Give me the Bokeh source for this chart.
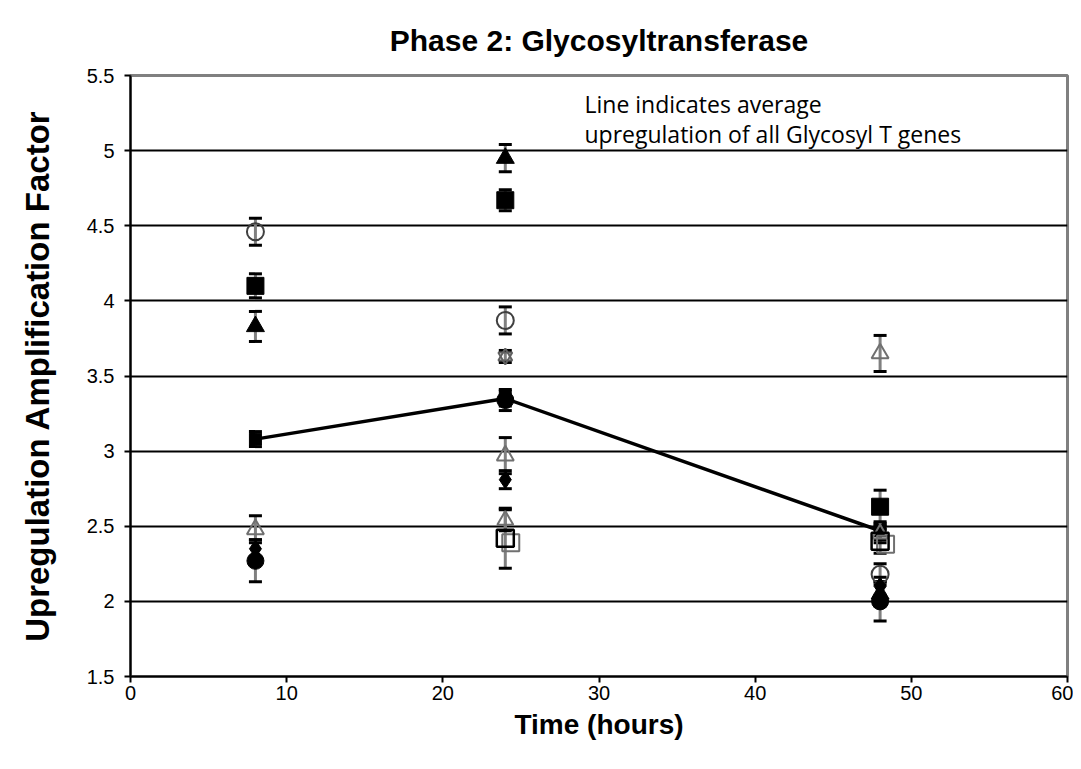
from bokeh.plotting import figure
from bokeh.models import (Range1d, FixedTicker, ColumnDataSource, Whisker, TeeHead, Label)
from bokeh.embed import file_html
from bokeh.resources import INLINE

# ---- data ----
times = [8, 24, 48]

open_circle = [4.46, 3.87, 2.18]
open_circle_err = [0.09, 0.09, 0.07]

filled_square = [4.10, 4.67, 2.63]
filled_square_err = [0.08, 0.07, 0.11]

filled_triangle = [3.83, 4.95, 2.05]
filled_triangle_err = [0.10, 0.09, 0.08]

open_triangle = [2.48, 2.97, 3.65]
open_triangle_err = [0.09, 0.12, 0.12]

filled_diamond = [2.35, 2.81, 2.10]
filled_diamond_err = [0.06, 0.06, 0.06]

filled_circle = [2.27, 3.34, 2.00]
filled_circle_err = [0.14, 0.07, 0.13]

open_square_times = [24, 48]
open_square = [2.42, 2.40]
open_square_err = [0.20, 0.08]

open_square2_times = [24.35, 48.35]
open_square2 = [2.39, 2.38]

open_triangle2_times = [24, 48]
open_triangle2 = [2.54, 2.45]
open_triangle2_err = [0.07, 0.06]

hourglass_times = [24]
hourglass = [3.63]
hourglass_err = [0.04]

average = [3.08, 3.35, 2.47]
average_err = [0.05, 0.05, 0.06]

x_ticks = [0, 10, 20, 30, 40, 50, 60]
y_ticks = [1.5, 2, 2.5, 3, 3.5, 4, 4.5, 5, 5.5]
y_tick_labels = ["1.5", "2", "2.5", "3", "3.5", "4", "4.5", "5", "5.5"]

title_text = "Phase 2: Glycosyltransferase"
x_label = "Time (hours)"
y_label = "Upregulation Amplification Factor"
note_lines = ["Line indicates average", "upregulation of all Glycosyl T genes"]

# ---- figure ----
p = figure(width=1073, height=760, output_backend="svg", toolbar_location=None,
           x_range=Range1d(0, 60), y_range=Range1d(1.5, 5.5),
           min_border_left=130, min_border_right=6, min_border_top=75, min_border_bottom=84)
p.background_fill_color = "white"
p.border_fill_color = "white"
p.outline_line_color = "#808080"
p.outline_line_width = 3

p.title.text = title_text
p.title.align = "center"
p.title.text_font = "Liberation Sans"
p.title.text_font_size = "30px"
p.title.text_font_style = "bold"
p.title.text_color = "black"
p.title.standoff = 38

p.xgrid.grid_line_color = None
p.ygrid.grid_line_color = "black"
p.ygrid.grid_line_width = 2
p.ygrid.ticker = FixedTicker(ticks=[v for v in y_ticks if 1.5 < v < 5.5])

for ax in (p.xaxis, p.yaxis):
    ax.axis_line_color = "black"
    ax.axis_line_width = 2
    ax.major_tick_line_color = "black"
    ax.major_tick_line_width = 2
    ax.major_tick_out = 6
    ax.major_tick_in = 0
    ax.minor_tick_line_color = None
    ax.major_label_text_font = "Liberation Sans"
    ax.major_label_text_font_size = "20px"
    ax.major_label_text_color = "black"
    ax.axis_label_text_font = "Liberation Sans"
    ax.axis_label_text_font_style = "bold"
    ax.axis_label_text_color = "black"

p.xaxis.ticker = FixedTicker(ticks=x_ticks)
p.yaxis.ticker = FixedTicker(ticks=y_ticks)
p.yaxis.major_label_overrides = {t: l for t, l in zip(y_ticks, y_tick_labels)}
p.xaxis.axis_label = x_label
p.yaxis.axis_label = y_label
p.xaxis.axis_label_text_font_size = "28px"
p.yaxis.axis_label_text_font_size = "33px"
p.xaxis.major_label_standoff = 3
p.xaxis.axis_label_standoff = 6
p.yaxis.major_label_standoff = 10
p.yaxis.axis_label_standoff = 28


def errbars(xs, ys, es):
    src = ColumnDataSource(dict(x=xs, lo=[y - e for y, e in zip(ys, es)],
                                hi=[y + e for y, e in zip(ys, es)]))
    w = Whisker(source=src, base="x", lower="lo", upper="hi",
                line_color="#808080", line_width=3,
                upper_head=TeeHead(size=13, line_color="black", line_width=3),
                lower_head=TeeHead(size=13, line_color="black", line_width=3))
    w.level = "underlay"
    p.add_layout(w)


errbars(times, open_circle, open_circle_err)
errbars(times, filled_square, filled_square_err)
errbars(times, filled_triangle, filled_triangle_err)
errbars(times, open_triangle, open_triangle_err)
errbars(times, filled_diamond, filled_diamond_err)
errbars(times, filled_circle, filled_circle_err)
errbars(open_square_times, open_square, open_square_err)
errbars(open_triangle2_times, open_triangle2, open_triangle2_err)
errbars(hourglass_times, hourglass, hourglass_err)
errbars(times, average, average_err)

# average line
p.line(times, average, line_color="black", line_width=3.5)
p.scatter(times, average, marker="square", size=12, fill_color="black", line_color="black")

# series markers
p.scatter(times, open_circle, marker="circle", size=17, fill_color=None,
          line_color="#404040", line_width=2)
p.scatter(times, filled_square, marker="square", size=17, fill_color="black", line_color="black")
p.scatter(times, filled_triangle, marker="triangle", size=18, fill_color="black", line_color="black")
p.scatter(times, open_triangle, marker="triangle", size=17, fill_color=None,
          line_color="#707070", line_width=2)
p.scatter(open_triangle2_times, open_triangle2, marker="triangle", size=16, fill_color=None,
          line_color="#707070", line_width=2)
p.scatter(hourglass_times, hourglass, marker="triangle", size=14, fill_color=None,
          line_color="#606060", line_width=2)
p.scatter(hourglass_times, hourglass, marker="inverted_triangle", size=14, fill_color=None,
          line_color="#606060", line_width=2)
p.scatter(times, filled_diamond, marker="diamond", size=18, fill_color="black", line_color="black")
p.scatter(times, filled_circle, marker="circle", size=17, fill_color="black", line_color="black")
p.scatter(open_square2_times, open_square2, marker="square", size=17, fill_color=None,
          line_color="#707070", line_width=2)
p.scatter(open_square_times, open_square, marker="square", size=17, fill_color=None,
          line_color="black", line_width=2.5)

# note
for i, txt in enumerate(note_lines):
    p.add_layout(Label(x=29.07, y=5.313 - i * 0.2, text=txt, text_font="Open Sans",
                       text_font_size="23px", text_color="black",
                       text_baseline="middle", text_align="left"))

open("out.html", "w").write(file_html(p, INLINE))
